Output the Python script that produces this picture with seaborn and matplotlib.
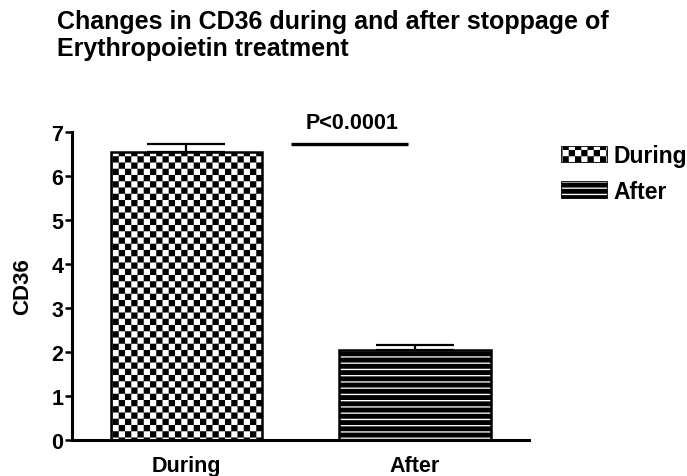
import warnings
warnings.filterwarnings("ignore")
import numpy as np
import pandas as pd
import matplotlib
matplotlib.use("Agg")
import matplotlib.pyplot as plt
import matplotlib.hatch as mhatch
from matplotlib.path import Path
from matplotlib.patches import Patch
import seaborn as sns

# ---- data ----
categories = ["During", "After"]
means = [6.55, 2.05]
sem_up = [0.18, 0.10]
y_ticks = [0, 1, 2, 3, 4, 5, 6, 7]
title_text = "Changes in CD36 during and after stoppage of\nErythropoietin treatment"
ylabel_text = "CD36"
p_text = "P<0.0001"
sig_x = [0.46, 0.97]
sig_y = 6.73


# ---- custom fill patterns (checkerboard / horizontal stripes) ----
class CheckerHatch(mhatch.HatchPatternBase):
    def __init__(self, hatch, density):
        self.n = 16 if "C" in hatch else 0
        self.num_vertices = (self.n * self.n // 2) * 5
        self.filled = True

    def set_vertices_and_codes(self, vertices, codes):
        n = self.n
        s = 1.0 / n
        k = 0
        for i in range(n):
            for j in range(n):
                if (i + j) % 2 == 0:
                    x0, y0 = i * s, j * s
                    vertices[k:k + 5] = [(x0, y0), (x0 + s, y0), (x0 + s, y0 + s),
                                         (x0, y0 + s), (x0, y0)]
                    codes[k:k + 5] = [Path.MOVETO, Path.LINETO, Path.LINETO,
                                      Path.LINETO, Path.CLOSEPOLY]
                    k += 5


class StripeHatch(mhatch.HatchPatternBase):
    def __init__(self, hatch, density):
        self.n = 16 if "S" in hatch else 0
        self.num_vertices = self.n * 5
        self.filled = True

    def set_vertices_and_codes(self, vertices, codes):
        n = self.n
        s = 1.0 / n
        h = 0.78 * s
        k = 0
        for j in range(n):
            y0 = j * s
            vertices[k:k + 5] = [(0, y0), (1, y0), (1, y0 + h), (0, y0 + h), (0, y0)]
            codes[k:k + 5] = [Path.MOVETO, Path.LINETO, Path.LINETO,
                              Path.LINETO, Path.CLOSEPOLY]
            k += 5


mhatch._hatch_types.append(CheckerHatch)
mhatch._hatch_types.append(StripeHatch)

sns.set_theme(style="ticks")
plt.rcParams["font.family"] = ["Liberation Sans", "DejaVu Sans"]
plt.rcParams["font.weight"] = "bold"
plt.rcParams["hatch.linewidth"] = 0.05
plt.rcParams["hatch.color"] = "black"
for key in ["text.color", "axes.labelcolor", "xtick.color", "ytick.color",
            "axes.edgecolor", "xtick.labelcolor", "ytick.labelcolor"]:
    plt.rcParams[key] = "black"

fig = plt.figure(figsize=(6.87, 4.77), dpi=100)
ax = fig.add_axes([72.25 / 687, 36 / 477, (529 - 72.25) / 687, (441 - 133) / 477])

df = pd.DataFrame({"group": categories, "value": means})
sns.barplot(data=df, x="group", y="value", hue="group", palette=["white", "white"],
            edgecolor="black", linewidth=1.8, width=0.665, errorbar=None,
            legend=False, ax=ax)

hatches = ["C", "S"]
for patch, h in zip(ax.patches, hatches):
    patch.set_hatch(h)

ax.errorbar(x=[0, 1], y=means, yerr=[[0, 0], sem_up], fmt="none", ecolor="black",
            elinewidth=1.6, capsize=28, capthick=1.6, zorder=5)

ax.set_xlim(-0.5, 1.5)
ax.set_ylim(0, 7)
ax.set_yticks(y_ticks)
ax.set_xlabel("")
ax.set_ylabel(ylabel_text, fontsize=16, fontweight="bold", labelpad=13, color="black")
sns.despine(ax=ax)
for sp in ["left", "bottom"]:
    ax.spines[sp].set_linewidth(2.2)
    ax.spines[sp].set_color("black")
ax.tick_params(axis="y", length=5, width=1.8, labelsize=15.5, pad=1.5, colors="black")
ax.tick_params(axis="x", length=0, labelsize=15.5, pad=11, colors="black")
for lab in ax.get_xticklabels() + ax.get_yticklabels():
    lab.set_fontweight("bold")

# significance annotation
ax.plot(sig_x, [sig_y, sig_y], color="black", lw=2.4, clip_on=False, solid_capstyle="butt")
ax.text(np.mean(sig_x) + 0.01, 7.22, p_text, ha="center", va="center",
        fontsize=15.5, fontweight="bold", clip_on=False, color="black")

fig.text(57 / 687, 1 - 10 / 477, title_text, ha="left", va="top", fontsize=18,
         fontweight="bold", linespacing=1.15, color="black")

handles = [Patch(facecolor="white", edgecolor="black", linewidth=0.6, hatch=h)
           for h in hatches]
leg = fig.legend(handles, categories, loc="upper left", bbox_to_anchor=(561 / 687, 1 - 145 / 477),
                 frameon=False, borderpad=0, borderaxespad=0, handlelength=2.0,
                 handleheight=0.75, handletextpad=0.3, labelspacing=0.55,
                 prop={"size": 16.5, "weight": "bold"})
for t in leg.get_texts():
    t.set_color("black")

fig.savefig("out.png", dpi=100)
